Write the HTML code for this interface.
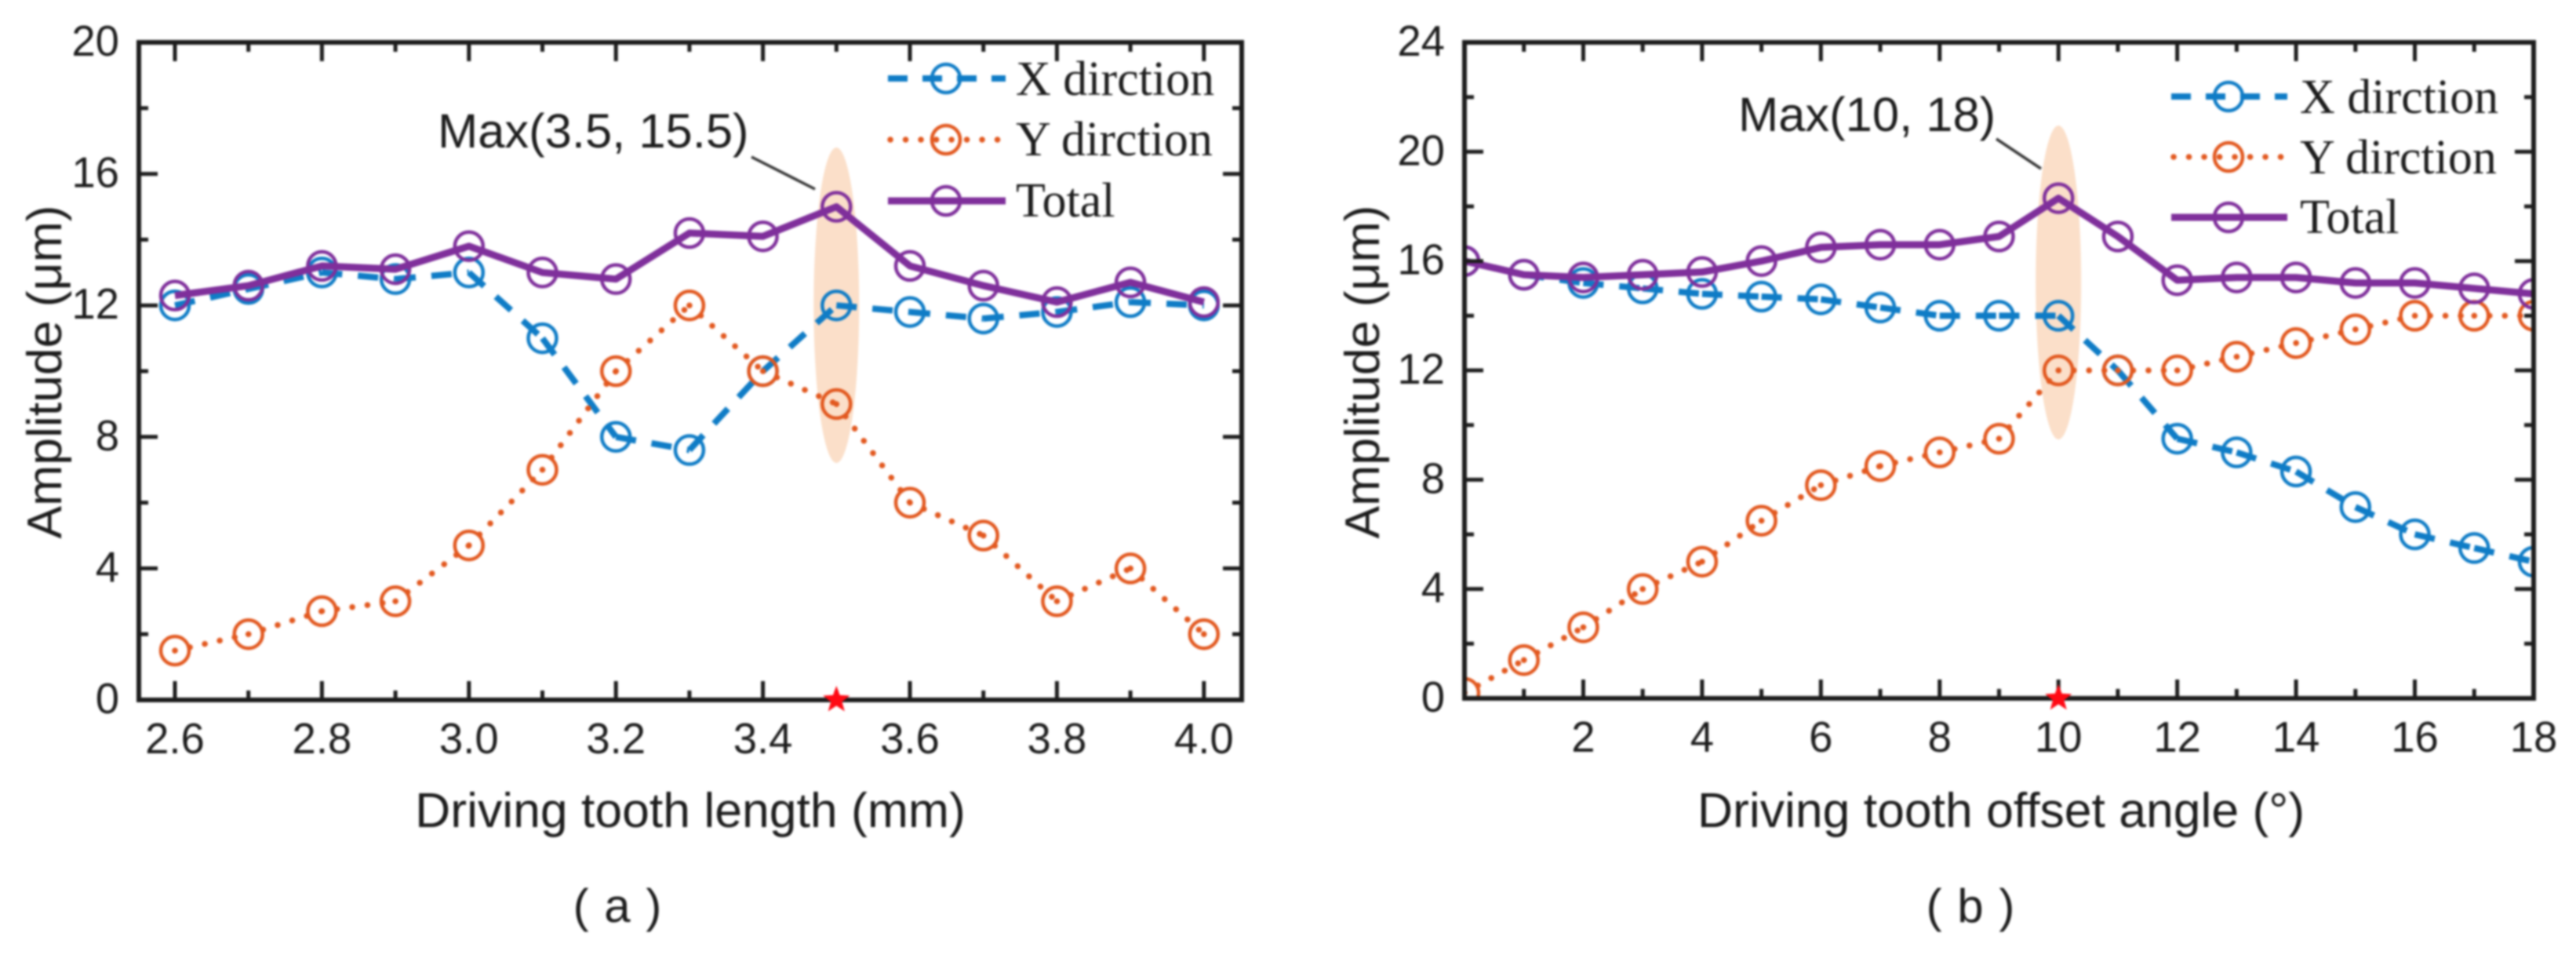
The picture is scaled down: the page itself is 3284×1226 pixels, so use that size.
<!DOCTYPE html>
<html lang="en">
<head>
<meta charset="utf-8">
<title>Amplitude vs driving tooth parameters</title>
<style>
html,body{margin:0;padding:0;background:#fff;width:3284px;height:1226px;overflow:hidden}
svg{display:block;filter:blur(1.2px)}
text{font-family:"Liberation Sans",sans-serif;fill:#1c1c1c}
.serif{font-family:"Liberation Serif",serif;font-size:62px}
.tick{font-size:54.5px}
.title{font-size:62.5px}
.note{font-size:61.5px}
.cap{font-size:60px;word-spacing:3px}
</style>
</head>
<body>
<svg id="chart" xmlns="http://www.w3.org/2000/svg" width="3284" height="1226" viewBox="0 0 3284 1226">
  <rect width="3284" height="1226" fill="#fff"/>
  <g id="panel-a"></g>
  <g id="panel-b"></g>

  <text class="title" text-anchor="middle" transform="translate(78,474) rotate(-90)">Amplitude (μm)</text>
  <text class="title" text-anchor="middle" x="880" y="1054">Driving tooth length (mm)</text>
  <text class="cap" text-anchor="middle" x="787" y="1175">( a )</text>
  <text class="note" x="558" y="188">Max(3.5, 15.5)</text>
  <line x1="958" y1="200" x2="1039" y2="241" stroke="#333" stroke-width="3.5"/>

  <text class="title" text-anchor="middle" transform="translate(1758,474) rotate(-90)">Amplitude (μm)</text>
  <text class="title" text-anchor="middle" x="2551" y="1054">Driving tooth offset angle (°)</text>
  <text class="cap" text-anchor="middle" x="2512" y="1175">( b )</text>
  <text class="note" x="2216" y="167">Max(10, 18)</text>
  <line x1="2545" y1="177" x2="2602" y2="215" stroke="#333" stroke-width="3.5"/>

  <g>
    <g>
      <line x1="1132" y1="100" x2="1282" y2="100" stroke="#0f7cc6" stroke-width="8" stroke-dasharray="25 19"/>
      <circle cx="1206" cy="100" r="18" fill="none" stroke="#0f7cc6" stroke-width="4.5"/>
      <text class="serif" x="1295" y="121">X dirction</text>
    </g>
    <g>
      <line x1="1135" y1="178" x2="1278" y2="178" stroke="#e2581f" stroke-width="7.5" stroke-linecap="round" stroke-dasharray="0.1 19.4"/>
      <circle cx="1206" cy="178" r="18" fill="none" stroke="#e2581f" stroke-width="4.5"/>
      <text class="serif" x="1295" y="198">Y dirction</text>
    </g>
    <g>
      <line x1="1132" y1="256" x2="1282" y2="256" stroke="#7f2f9b" stroke-width="9"/>
      <circle cx="1206" cy="256" r="18" fill="none" stroke="#7f2f9b" stroke-width="4.5"/>
      <text class="serif" x="1295" y="276">Total</text>
    </g>
  </g>

  <g>
    <g>
      <line x1="2768" y1="123" x2="2916" y2="123" stroke="#0f7cc6" stroke-width="8" stroke-dasharray="25 19"/>
      <circle cx="2841" cy="123" r="18" fill="none" stroke="#0f7cc6" stroke-width="4.5"/>
      <text class="serif" x="2932" y="144">X dirction</text>
    </g>
    <g>
      <line x1="2771" y1="200" x2="2914" y2="200" stroke="#e2581f" stroke-width="7.5" stroke-linecap="round" stroke-dasharray="0.1 19.4"/>
      <circle cx="2841" cy="200" r="18" fill="none" stroke="#e2581f" stroke-width="4.5"/>
      <text class="serif" x="2932" y="221">Y dirction</text>
    </g>
    <g>
      <line x1="2768" y1="277" x2="2916" y2="277" stroke="#7f2f9b" stroke-width="9"/>
      <circle cx="2841" cy="277" r="18" fill="none" stroke="#7f2f9b" stroke-width="4.5"/>
      <text class="serif" x="2932" y="297">Total</text>
    </g>
  </g>
</svg>
<script>
// Panel (a) data
const aLengths = [2.6,2.7,2.8,2.9,3.0,3.1,3.2,3.3,3.4,3.5,3.6,3.7,3.8,3.9,4.0];
const aXDirection = [12,12.5,13,12.8,13,11,8,7.6,10,12,11.8,11.6,11.8,12.1,12];
const aYDirection = [1.5,2,2.7,3,4.7,7,10,12,10,9,6,5,3,4,2];
const aTotal = [12.3,12.6,13.2,13.1,13.8,13,12.8,14.2,14.1,15,13.2,12.6,12.1,12.7,12.1];
const aXTicks = [2.6,2.8,3.0,3.2,3.4,3.6,3.8,4.0];
const aXMinor = [2.7,2.9,3.1,3.3,3.5,3.7,3.9];
const aYTicks = [0,4,8,12,16,20];
const aYMinor = [2,6,10,14,18];
const aPeakX = 3.5;
const aPeakValue = 15;

// Panel (b) data
const bAngles = [0,1,2,3,4,5,6,7,8,9,10,11,12,13,14,15,16,17,18];
const bXDirection = [16,15.5,15.2,15,14.8,14.7,14.6,14.3,14,14,14,12,9.5,9,8.3,7,6,5.5,5];
const bYDirection = [0.2,1.4,2.6,4,5,6.5,7.8,8.5,9,9.5,12,12,12,12.5,13,13.5,14,14,14];
const bTotal = [16,15.5,15.4,15.5,15.6,16,16.5,16.6,16.6,16.9,18.3,16.9,15.3,15.4,15.4,15.2,15.2,15,14.8];
const bXTicks = [2,4,6,8,10,12,14,16,18];
const bXMinor = [1,3,5,7,9,11,13,15,17];
const bYTicks = [0,4,8,12,16,20,24];
const bYMinor = [2,6,10,14,18,22];
const bPeakX = 10;
const bPeakValue = 18.3;

const NS = 'http://www.w3.org/2000/svg';
function mk(parent, tag, attrs, txt) {
  const node = document.createElementNS(NS, tag);
  for (const k in attrs) node.setAttribute(k, attrs[k]);
  if (txt !== undefined) node.textContent = txt;
  parent.appendChild(node);
  return node;
}

function drawPanel(id, geo, xs, series, xTicks, xMinor, yTicks, yMinor, fmt, peakX) {
  const root = document.getElementById(id);
  const xa = v => geo.x0 + (v - geo.xMin) * geo.xScale;
  const ya = v => geo.bottom - (v - geo.yMin) * geo.yScale;

  const defs = mk(root, 'defs', {});
  const clip = mk(defs, 'clipPath', {id: id + '-clip'});
  mk(clip, 'rect', {x: geo.left, y: geo.top, width: geo.right - geo.left, height: geo.bottom - geo.top});

  const halo = mk(root, 'ellipse', {cx: xa(peakX), cy: geo.haloCy, rx: 29, ry: geo.haloRy, fill: '#fbdfc9'});
  
  

  const plot = mk(root, 'g', {'clip-path': 'url(#' + id + '-clip)'});
  
  

  series.forEach(s => {
    const grp = mk(plot, 'g', {});
    
    
    if (s.solid) {
      const pts = xs.map((x, i) => xa(x) + ',' + ya(s.values[i])).join(' ');
      const poly = mk(grp, 'polyline', {points: pts, fill: 'none', stroke: s.color, 'stroke-width': 9, 'stroke-linejoin': 'round'});
      
      
    } else {
      for (let i = 0; i < xs.length - 1; i++) {
        const seg = mk(grp, 'line', {x1: xa(xs[i]), y1: ya(s.values[i]), x2: xa(xs[i + 1]), y2: ya(s.values[i + 1]), stroke: s.color, 'stroke-width': s.width, 'stroke-dasharray': s.dash, 'stroke-linecap': s.cap});
        
        
      }
      if (s.cap === 'round') {
        const x = xs[xs.length - 1];
        const endDot = mk(grp, 'circle', {cx: xa(x), cy: ya(s.values[xs.length - 1]), r: 3.8, fill: s.color});
        
        
      }
    }
    xs.forEach((x, i) => {
      const pt = mk(grp, 'circle', {cx: xa(x), cy: ya(s.values[i]), r: 18, fill: 'none', stroke: s.color, 'stroke-width': 4.5});
      
      
    });
  });

  const axes = mk(root, 'g', {stroke: '#1c1c1c'});
  
  

  const frame = mk(axes, 'rect', {x: geo.left, y: geo.top, width: geo.right - geo.left, height: geo.bottom - geo.top, fill: 'none', 'stroke-width': 6});
  
  

  function xTick(v, len) {
    const b = mk(axes, 'line', {x1: xa(v), x2: xa(v), y1: geo.bottom, y2: geo.bottom - len, 'stroke-width': 5});
    
    
    const t = mk(axes, 'line', {x1: xa(v), x2: xa(v), y1: geo.top, y2: geo.top + len, 'stroke-width': 5});
    
    
  }
  function yTick(v, len) {
    const l = mk(axes, 'line', {x1: geo.left, x2: geo.left + len, y1: ya(v), y2: ya(v), 'stroke-width': 5});
    
    
    const r = mk(axes, 'line', {x1: geo.right, x2: geo.right - len, y1: ya(v), y2: ya(v), 'stroke-width': 5});
    
    
  }
  xTicks.forEach(v => xTick(v, 24));
  xMinor.forEach(v => xTick(v, 12));
  yTicks.forEach(v => yTick(v, 24));
  yMinor.forEach(v => yTick(v, 12));

  xTicks.forEach(v => {
    const lab = mk(root, 'text', {class: 'tick', x: xa(v), y: geo.xLabelY, 'text-anchor': 'middle'}, fmt(v));
    
    
  });
  yTicks.forEach(v => {
    const lab = mk(root, 'text', {class: 'tick', x: geo.yLabelX, y: ya(v) + 17, 'text-anchor': 'end'}, String(v));
    
    
  });

  const cx = xa(peakX), cy = ya(0), pts = [];
  for (let i = 0; i < 10; i++) {
    const rad = i % 2 ? 7.5 : 18;
    const ang = -Math.PI / 2 + i * Math.PI / 5;
    pts.push((cx + rad * Math.cos(ang)) + ',' + (cy + rad * Math.sin(ang)));
  }
  const star = mk(root, 'polygon', {points: pts.join(' '), fill: '#ff0a14'});
  
  
}

const blue = '#0f7cc6', orange = '#e2581f', purple = '#7f2f9b';

drawPanel('panel-a',
  {left: 177, right: 1583, top: 54, bottom: 892, x0: 223, xMin: 2.6, xScale: 937, yMin: 0, yScale: 41.9, xLabelY: 960, yLabelX: 152, haloCy: 389, haloRy: 201},
  aLengths,
  [
    {name: 'x-dirction', values: aXDirection, color: blue, width: 8, dash: '26 20', cap: 'butt'},
    {name: 'y-dirction', values: aYDirection, color: orange, width: 7.5, dash: '0.1 19.4', cap: 'round'},
    {name: 'total', values: aTotal, color: purple, solid: true}
  ],
  aXTicks, aXMinor, aYTicks, aYMinor, v => v.toFixed(1), aPeakX);

drawPanel('panel-b',
  {left: 1867, right: 3230, top: 54, bottom: 890, x0: 1867, xMin: 0, xScale: 75.72, yMin: 0, yScale: 34.83, xLabelY: 958, yLabelX: 1842, haloCy: 360, haloRy: 200},
  bAngles,
  [
    {name: 'x-dirction', values: bXDirection, color: blue, width: 8, dash: '26 20', cap: 'butt'},
    {name: 'y-dirction', values: bYDirection, color: orange, width: 7.5, dash: '0.1 19.4', cap: 'round'},
    {name: 'total', values: bTotal, color: purple, solid: true}
  ],
  bXTicks, bXMinor, bYTicks, bYMinor, v => String(v), bPeakX);
</script>
</body>
</html>
